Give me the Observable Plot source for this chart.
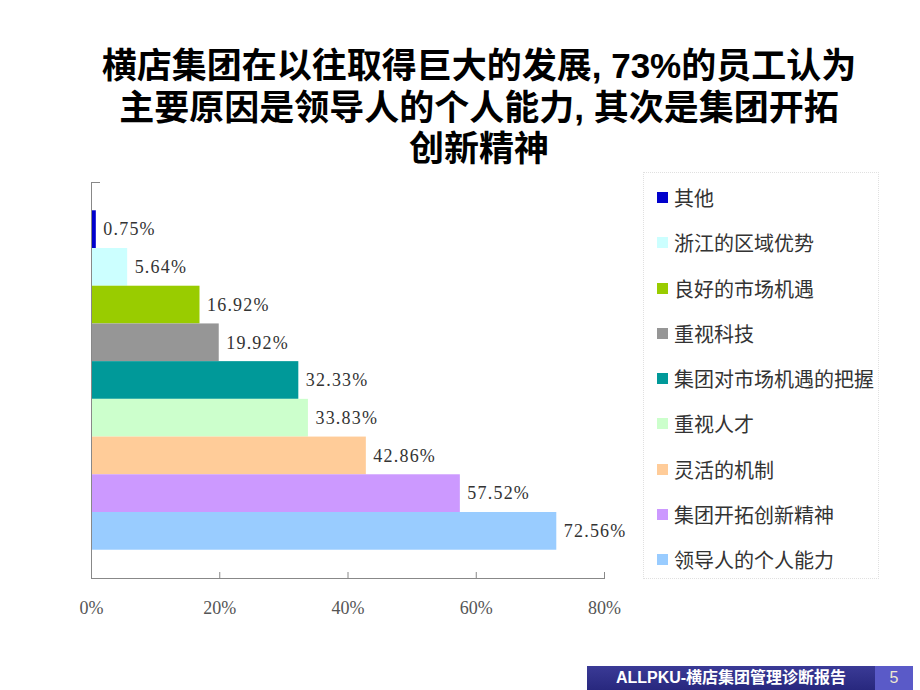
<!DOCTYPE html>
<html><head><meta charset="utf-8">
<script src="https://cdn.jsdelivr.net/npm/d3@7"></script>
<script src="https://cdn.jsdelivr.net/npm/@observablehq/plot@0.6"></script>
<style>
body{margin:0;background:#fff;}
#page{position:relative;width:920px;height:690px;overflow:hidden;background:#fff;}
#title{position:absolute;left:79px;top:45px;width:800px;text-align:center;font-family:"Liberation Sans","Noto Sans CJK SC",sans-serif;font-weight:bold;font-size:35px;line-height:41.5px;color:#000;}
#chart{position:absolute;left:0;top:160px;}
#legend{position:absolute;left:643px;top:172px;width:236px;height:407px;border:1px dotted #e0e0e0;box-sizing:border-box;padding-top:2px;font-family:"Noto Sans CJK SC",sans-serif;font-size:20px;color:#333;}
.item{height:45.25px;display:flex;align-items:center;}
.sw{width:11px;height:11px;margin-left:13px;margin-right:6px;flex:none;}
#footer{position:absolute;left:587px;top:666px;width:288px;height:24px;background:linear-gradient(#3a3a96,#28287e);color:#fff;font-family:"Liberation Sans","Noto Sans CJK SC",sans-serif;font-weight:bold;font-size:16px;line-height:24px;text-align:center;}
#page-no{position:absolute;left:875px;top:666px;width:38px;height:24px;background:#5a5ac8;color:#eee8d0;font-family:"Liberation Sans",sans-serif;font-size:16px;line-height:24px;text-align:center;}
</style></head>
<body>
<div id="page">
  <div id="title"></div>
  <div id="chart"></div>
  <div id="legend"></div>
  <div id="footer"></div>
  <div id="page-no"></div>
</div>
<script>
const titleLines = ["横店集团在以往取得巨大的发展, 73%的员工认为", "主要原因是领导人的个人能力, 其次是集团开拓", "创新精神"];
const categories = ["其他","浙江的区域优势","良好的市场机遇","重视科技","集团对市场机遇的把握","重视人才","灵活的机制","集团开拓创新精神","领导人的个人能力"];
const values = [0.75, 5.64, 16.92, 19.92, 32.33, 33.83, 42.86, 57.52, 72.56];
const colors = ["#0000cc","#ccffff","#99cc00","#969696","#009999","#ccffcc","#ffcc99","#cc99ff","#99ccff"];
const xTicks = [0, 20, 40, 60, 80];
const footerText = "ALLPKU-横店集团管理诊断报告";
const pageNumber = "5";

const data = categories.map((c, i) => ({cat: c, value: values[i]}));

document.getElementById("title").innerHTML = titleLines.map(t => `<div>${t}</div>`).join("");
document.getElementById("footer").textContent = footerText;
document.getElementById("page-no").textContent = pageNumber;
document.getElementById("legend").innerHTML = categories.map((c, i) =>
  `<div class="item"><span class="sw" style="background:${colors[i]}"></span><span>${c}</span></div>`).join("");

const W = 640, ML = 91, MR = 36;
const chart = Plot.plot({
  width: W, height: 470,
  marginLeft: ML, marginRight: MR, marginTop: 22, marginBottom: 52,
  x: {domain: [0, 80], label: null},
  y: {domain: categories, paddingInner: 0, paddingOuter: 0.75, round: false, axis: null},
  color: {domain: categories, range: colors},
  style: {fontFamily: "Liberation Serif, serif", fontSize: "18px", background: "transparent", overflow: "visible"},
  marks: [
    Plot.barX(data, {x: "value", y: "cat", fill: "cat"}),
    Plot.text(data, {x: "value", y: "cat", text: d => d.value.toFixed(2) + "%", dx: 7, textAnchor: "start", fill: "#333", fontSize: 18, className: "vlabel"}),
    Plot.ruleX([0], {stroke: "#888"}),
    Plot.frame({anchor: "bottom", stroke: "#888"}),
    Plot.frame({anchor: "top", stroke: "#888", insetRight: W - ML - MR - 8}),
    Plot.axisX({ticks: xTicks, tickSize: 6, dy: -6, tickFormat: () => "", label: null, color: "#888"}),
    Plot.axisX({ticks: xTicks, tickSize: 0, tickPadding: 23, tickFormat: d => d + "%", label: null, color: "#555", fontSize: 18})
  ]
});
document.getElementById("chart").appendChild(chart);
chart.querySelectorAll(".vlabel text, g.vlabel text").forEach(t => t.setAttribute("letter-spacing", "1.2"));
</script>
</body></html>
